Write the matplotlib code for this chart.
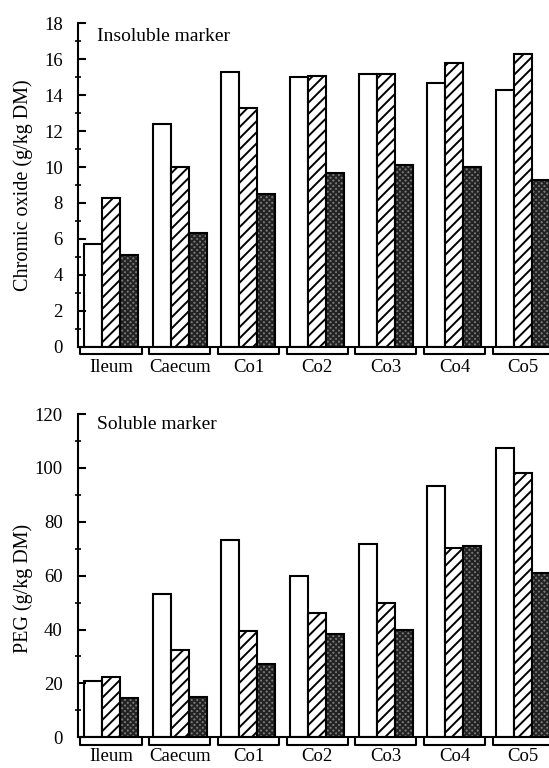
import numpy as np
import matplotlib.pyplot as plt
from matplotlib.ticker import MultipleLocator

plt.rcParams['font.family'] = 'Liberation Serif'
plt.rcParams['font.size'] = 13.5
plt.rcParams['hatch.linewidth'] = 1.4

# data
sites = ['Ileum', 'Caecum', 'Co1', 'Co2', 'Co3', 'Co4', 'Co5']

chromic_open = [5.7, 12.4, 15.3, 15.0, 15.2, 14.65, 14.3]
chromic_hatched = [8.3, 10.0, 13.3, 15.05, 15.2, 15.8, 16.3]
chromic_dark = [5.1, 6.3, 8.5, 9.65, 10.1, 10.0, 9.3]

peg_open = [21.0, 53.3, 73.1, 60.0, 71.6, 93.2, 107.4]
peg_hatched = [22.2, 32.3, 39.4, 46.2, 50.0, 70.4, 98.0]
peg_dark = [14.4, 14.8, 27.3, 38.5, 39.8, 71.1, 61.0]

x = np.arange(len(sites))
w = 0.262

fig = plt.figure(figsize=(5.49, 7.68), dpi=100)
ax1 = fig.add_axes([0.1421, 0.5486, 0.8579, 0.4211])
ax2 = fig.add_axes([0.1421, 0.0400, 0.8579, 0.4209])


def draw_panel(ax, a, b, c, ymax, major, minor, ylabel, title, ty, label_y, xpad):
    ax.bar(x - w, a, w, facecolor='white', edgecolor='black', linewidth=1.5)
    ax.bar(x, b, w, facecolor='white', edgecolor='black', linewidth=1.5, hatch='///')
    # stippled dark bars: texture first, then black outline on top
    ax.bar(x + w, c, w, facecolor='#7a7a7a', edgecolor='#222222', linewidth=0, hatch='xxxxxx')
    ax.bar(x + w, c, w, facecolor='none', edgecolor='black', linewidth=1.5)

    ax.set_xlim(-0.48, 6.376)
    ax.set_ylim(0, ymax)
    ax.spines['top'].set_visible(False)
    ax.spines['right'].set_visible(False)
    ax.spines['left'].set_linewidth(1.5)
    ax.spines['bottom'].set_linewidth(1.5)

    ax.yaxis.set_major_locator(MultipleLocator(major))
    ax.yaxis.set_minor_locator(MultipleLocator(minor))
    ax.tick_params(axis='y', which='major', direction='in', length=6, width=1.5, pad=11)
    ax.tick_params(axis='y', which='minor', direction='inout', length=5, width=1.2)
    ax.set_xticks(x)
    ax.set_xticklabels(sites)
    ax.tick_params(axis='x', length=0, pad=xpad)

    ax.set_ylabel(ylabel, fontsize=14.5)
    ax.yaxis.set_label_coords(-0.095, label_y)
    ax.text(0.04, ty, title, transform=ax.transAxes, va='baseline', fontsize=14)

    # brackets under each group
    tr = ax.get_xaxis_transform()
    for xi in x:
        ax.plot([xi - 0.445, xi - 0.445, xi + 0.445, xi + 0.445],
                [-0.006, -0.024, -0.024, -0.006],
                color='black', linewidth=1.5, transform=tr, clip_on=False)


draw_panel(ax1, chromic_open, chromic_hatched, chromic_dark, 18, 2, 1,
           'Chromic oxide (g/kg DM)', 'Insoluble marker', 0.946, 0.5, 9)
draw_panel(ax2, peg_open, peg_hatched, peg_dark, 120, 20, 10,
           'PEG (g/kg DM)', 'Soluble marker', 0.953, 0.46, 8)

fig.savefig('out.png', dpi=100)
